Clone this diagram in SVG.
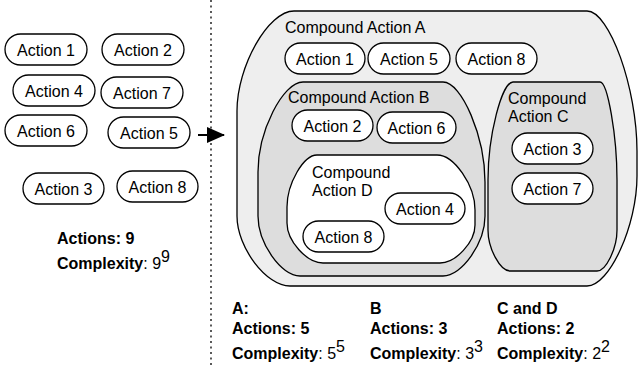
<svg xmlns="http://www.w3.org/2000/svg" width="640" height="366" viewBox="0 0 640 366">
<style>
text{font-family:"Liberation Sans",Arial,sans-serif;font-size:16px;fill:#000}
.pill{fill:#fff;stroke:#000;stroke-width:1.3}
.pt{text-anchor:middle}
.b{font-weight:bold}
.cA{fill:#eeeeee;stroke:#000;stroke-width:1.3}
.cB{fill:#dddddd;stroke:#000;stroke-width:1.3}
.cD{fill:#ffffff;stroke:#000;stroke-width:1.3}
.sup{font-size:16px}
</style>
<defs>
<marker id="ah" markerWidth="18" markerHeight="16" refX="17" refY="8" orient="auto" markerUnits="userSpaceOnUse" viewBox="0 0 18 16">
<path d="M0,0 L18,8 L0,16 Z" fill="#000"/>
</marker>
</defs>
<rect width="640" height="366" fill="#fff"/>
<line x1="211" y1="0" x2="211" y2="366" stroke="#000" stroke-width="1.3" stroke-dasharray="2 3.5"/>

<g id="left-actions">
<g id="l-action-1"><rect class="pill" x="5" y="34" width="82" height="31" rx="15.5"/><text class="pt" x="46" y="56">Action 1</text></g>
<g id="l-action-2"><rect class="pill" x="102" y="34" width="82" height="31" rx="15.5"/><text class="pt" x="143" y="56">Action 2</text></g>
<g id="l-action-4"><rect class="pill" x="13" y="75" width="82" height="31" rx="15.5"/><text class="pt" x="54" y="97">Action 4</text></g>
<g id="l-action-7"><rect class="pill" x="101" y="77" width="82" height="31" rx="15.5"/><text class="pt" x="142" y="99">Action 7</text></g>
<g id="l-action-6"><rect class="pill" x="5" y="115" width="82" height="31" rx="15.5"/><text class="pt" x="46" y="137">Action 6</text></g>
<g id="l-action-5"><rect class="pill" x="108" y="117" width="82" height="31" rx="15.5"/><text class="pt" x="149" y="139">Action 5</text></g>
<g id="l-action-3"><rect class="pill" x="23" y="173" width="81" height="31" rx="15.5"/><text class="pt" x="63.5" y="195">Action 3</text></g>
<g id="l-action-8"><rect class="pill" x="117" y="171" width="81" height="31" rx="15.5"/><text class="pt" x="157.5" y="193">Action 8</text></g>
</g>

<g id="left-summary">
<text class="b" x="57" y="244">Actions: 9</text>
<text x="57" y="269"><tspan class="b">Complexity</tspan>: 9<tspan class="sup" dy="-7">9</tspan></text>
</g>

<g id="compound-a">
<path class="cA" d="M294,11 H587 C609.5,11 637,88 637,151 V176 C637,225.5 609.5,286 587,286 H290 C266.2,286 237,247.5 237,216 V111 C237,66 268.4,11 294,11 Z"/>
<text x="285" y="33">Compound Action A</text>
<g id="a-action-1"><rect class="pill" x="285" y="43" width="80" height="31" rx="15.5"/><text class="pt" x="325" y="65">Action 1</text></g>
<g id="a-action-5"><rect class="pill" x="368" y="43" width="82" height="31" rx="15.5"/><text class="pt" x="409" y="65">Action 5</text></g>
<g id="a-action-8"><rect class="pill" x="456" y="43" width="81" height="31" rx="15.5"/><text class="pt" x="496.5" y="65">Action 8</text></g>
</g>

<g id="compound-b">
<path class="cB" d="M303,82 H443 C461.9,82 485,137 485,182 V216 C485,243 461.9,276 443,276 H300 C281.1,276 258,243 258,216 V172 C258,131.5 282.75,82 303,82 Z"/>
<text x="288" y="103">Compound Action B</text>
<g id="b-action-2"><rect class="pill" x="292" y="110" width="81" height="31" rx="15.5"/><text class="pt" x="332.5" y="132">Action 2</text></g>
<g id="b-action-6"><rect class="pill" x="377" y="112" width="79" height="31" rx="15.5"/><text class="pt" x="416.5" y="134">Action 6</text></g>
</g>

<g id="compound-c">
<path class="cB" d="M513,82 H600 C607.65,82 617,135.9 617,180 V230 C617,248.45 606,271 597,271 H510 C500.1,271 488,248.45 488,230 V180 C488,135.9 501.75,82 513,82 Z"/>
<text x="508" y="104">Compound</text>
<text x="508" y="122">Action C</text>
<g id="c-action-3"><rect class="pill" x="512" y="133" width="81" height="31" rx="15.5"/><text class="pt" x="552.5" y="155">Action 3</text></g>
<g id="c-action-7"><rect class="pill" x="512" y="173" width="81" height="31" rx="15.5"/><text class="pt" x="552.5" y="195">Action 7</text></g>
</g>

<g id="compound-d">
<path class="cD" d="M317,155 H437 C454.1,155 475,185.25 475,210 V225 C475,242.1 455.75,263 440,263 H323 C306.8,263 287,241 287,223 V207 C287,183.6 303.5,155 317,155 Z"/>
<text x="312" y="178">Compound</text>
<text x="312" y="196">Action D</text>
<g id="d-action-4"><rect class="pill" x="385" y="193" width="80" height="31" rx="15.5"/><text class="pt" x="425" y="215">Action 4</text></g>
<g id="d-action-8"><rect class="pill" x="303" y="221" width="81" height="31" rx="15.5"/><text class="pt" x="343.5" y="243">Action 8</text></g>
</g>

<g id="summaries">
<text class="b" x="232" y="314">A:</text>
<text class="b" x="232" y="334">Actions: 5</text>
<text x="232" y="359"><tspan class="b">Complexity</tspan>: 5<tspan class="sup" dy="-7">5</tspan></text>
<text class="b" x="370" y="314">B</text>
<text class="b" x="370" y="334">Actions: 3</text>
<text x="370" y="359"><tspan class="b">Complexity</tspan>: 3<tspan class="sup" dy="-7">3</tspan></text>
<text class="b" x="497" y="314">C and D</text>
<text class="b" x="497" y="334">Actions: 2</text>
<text x="497" y="359"><tspan class="b">Complexity</tspan>: 2<tspan class="sup" dy="-7">2</tspan></text>
</g>

<g id="connectors">
<line x1="198" y1="135" x2="224" y2="135" stroke="#000" stroke-width="2" marker-end="url(#ah)"/>
</g>
</svg>
